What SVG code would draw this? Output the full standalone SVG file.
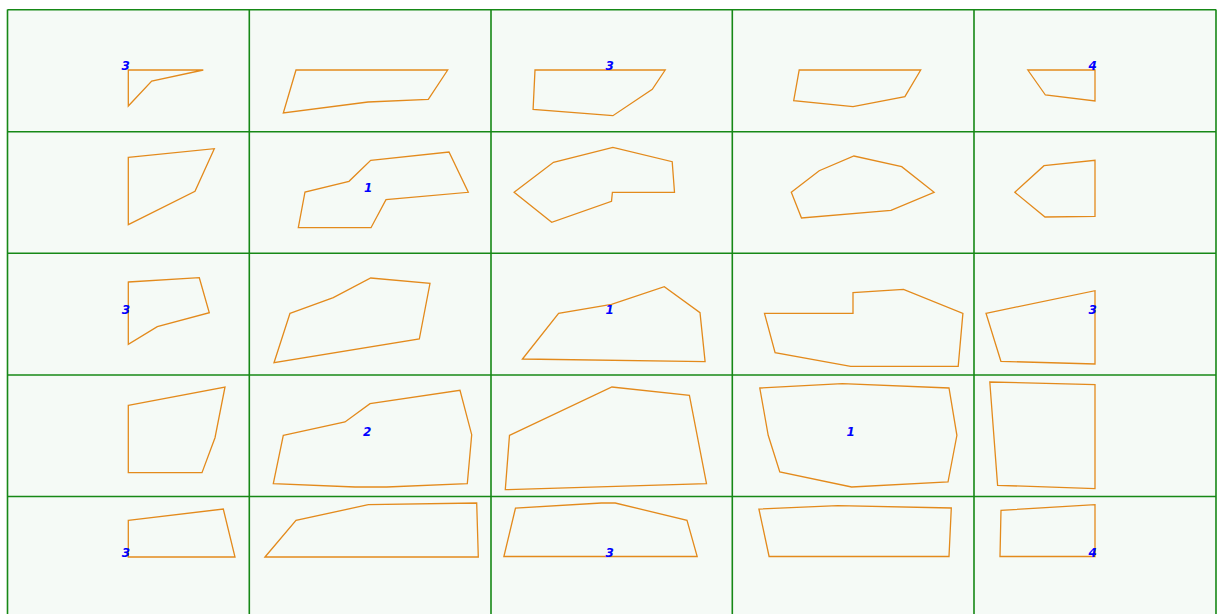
<svg xmlns="http://www.w3.org/2000/svg" width="1217" height="614" viewBox="0 0 1217 614">
<style>
.grid{stroke:#168816;stroke-width:1.6;fill:none}
.shape{fill:none;stroke:#e38a1c;stroke-width:1.3;stroke-linejoin:miter}
.lbl{fill:#0000ff;font-family:"DejaVu Sans",sans-serif;font-size:12px;font-style:italic;font-weight:bold;text-anchor:middle}
</style>
<rect x="0" y="0" width="1217" height="614" fill="#ffffff"/>
<rect x="7.5" y="9.5" width="1208.5" height="605" fill="#f5faf6"/>
<g id="grid">
<line class="grid" x1="7.5" y1="9.5" x2="7.5" y2="614"/>
<line class="grid" x1="249.3" y1="9.5" x2="249.3" y2="614"/>
<line class="grid" x1="491" y1="9.5" x2="491" y2="614"/>
<line class="grid" x1="732.3" y1="9.5" x2="732.3" y2="614"/>
<line class="grid" x1="974" y1="9.5" x2="974" y2="614"/>
<line class="grid" x1="1216" y1="9.5" x2="1216" y2="614"/>
<line class="grid" x1="7.5" y1="9.8" x2="1216" y2="9.8"/>
<line class="grid" x1="7.5" y1="131.8" x2="1216" y2="131.8"/>
<line class="grid" x1="7.5" y1="253.2" x2="1216" y2="253.2"/>
<line class="grid" x1="7.5" y1="375" x2="1216" y2="375"/>
<line class="grid" x1="7.5" y1="496.5" x2="1216" y2="496.5"/>
</g>
<g id="n00"><polygon class="shape" points="128.3,70 203.3,70 151.7,81 128.3,106"/><text class="lbl" x="125.8" y="70">3</text></g>
<g id="n01"><polygon class="shape" points="296,70 447.7,70 428.3,99.3 368,102 283.3,113"/></g>
<g id="n02"><polygon class="shape" points="535,70 665.2,70 652.3,89.3 612.9,115.7 533.1,109.3"/><text class="lbl" x="609.6" y="70">3</text></g>
<g id="n03"><polygon class="shape" points="799.2,70 920.7,70 904.9,96.7 853,106.7 793.7,100.7"/></g>
<g id="n04"><polygon class="shape" points="1027.8,70 1095,70 1095,101 1045.4,95"/><text class="lbl" x="1092.7" y="70">4</text></g>

<g id="n10"><polygon class="shape" points="128.3,157.3 214.3,148.7 195,191.3 128.3,224.7"/></g>
<g id="n11"><polygon class="shape" points="370.7,160.3 449,152 468.3,192.3 386,199.7 371,227.7 298.3,227.7 305,192 349,181.3"/><text class="lbl" x="368.3" y="191.5">1</text></g>
<g id="n12"><polygon class="shape" points="514.1,192.3 553.5,162.3 612.9,147.3 672.2,161.7 674.5,192.3 612.4,192.3 611.5,201.3 551.7,222.3"/></g>
<g id="n13"><polygon class="shape" points="791.3,192.3 819.2,170.7 853.9,156 901.7,166.7 934.1,192.3 891,210.3 801.5,218"/></g>
<g id="n14"><polygon class="shape" points="1014.8,192.3 1044,165.7 1095,160.3 1095,216.3 1045,217"/></g>

<g id="n20"><polygon class="shape" points="128.3,282 199.3,277.7 209.3,312.7 157.3,326.7 128.3,344.3"/><text class="lbl" x="126" y="314.2">3</text></g>
<g id="n21"><polygon class="shape" points="290,313.3 333.3,297.7 370.7,278 430,283.3 419.3,339 274,362.7"/></g>
<g id="n22"><polygon class="shape" points="522.5,359 558.6,313.3 611.5,304.3 664.3,286.7 700,312.7 705.1,361.7"/><text class="lbl" x="609.6" y="314.2">1</text></g>
<g id="n23"><polygon class="shape" points="764.5,313.3 853,313.3 853,292.7 903.5,289.3 962.9,313.3 958.2,366.3 850.7,366.3 775.1,352.7"/></g>
<g id="n24"><polygon class="shape" points="986,313.3 1095,290.7 1095,364 1000.9,361.3"/><text class="lbl" x="1092.7" y="314.2">3</text></g>

<g id="n30"><polygon class="shape" points="128.3,405.3 225,387 215,437.7 202,472.7 128.3,472.7"/></g>
<g id="n31"><polygon class="shape" points="283.3,435.3 345,422 370,403.7 460,390.3 471.7,434.7 467.3,483.7 386.7,487 355,487 273.3,483.7"/><text class="lbl" x="367.3" y="435.5">2</text></g>
<g id="n32"><polygon class="shape" points="509.5,435.3 611.9,387 689.4,395.3 706.5,483.7 505.3,489.7"/></g>
<g id="n33"><polygon class="shape" points="759.8,388 842.3,383.7 949,388 956.9,435.3 948,482 851.6,487 779.8,472 768.2,435.3"/><text class="lbl" x="850.7" y="435.5">1</text></g>
<g id="n34"><polygon class="shape" points="989.8,382 1095,384.7 1095,488.7 997.6,485.3"/></g>

<g id="n40"><polygon class="shape" points="128.3,520.3 223.3,509 235,557 128.3,557"/><text class="lbl" x="126" y="557.2">3</text></g>
<g id="n41"><polygon class="shape" points="265,557 296,520.3 368.3,504.7 476.7,503 478.3,557"/></g>
<g id="n42"><polygon class="shape" points="503.9,556.5 515.5,508 601.3,503 615.2,503 687,520.3 697.2,556.5"/><text class="lbl" x="609.6" y="557.2">3</text></g>
<g id="n43"><polygon class="shape" points="769.1,556.5 758.9,509 837.7,505.7 951.3,508 949,556.5"/></g>
<g id="n44"><polygon class="shape" points="1000,556.5 1001,510.3 1095,504.7 1095,556.5"/><text class="lbl" x="1092.7" y="557.2">4</text></g>
</svg>
